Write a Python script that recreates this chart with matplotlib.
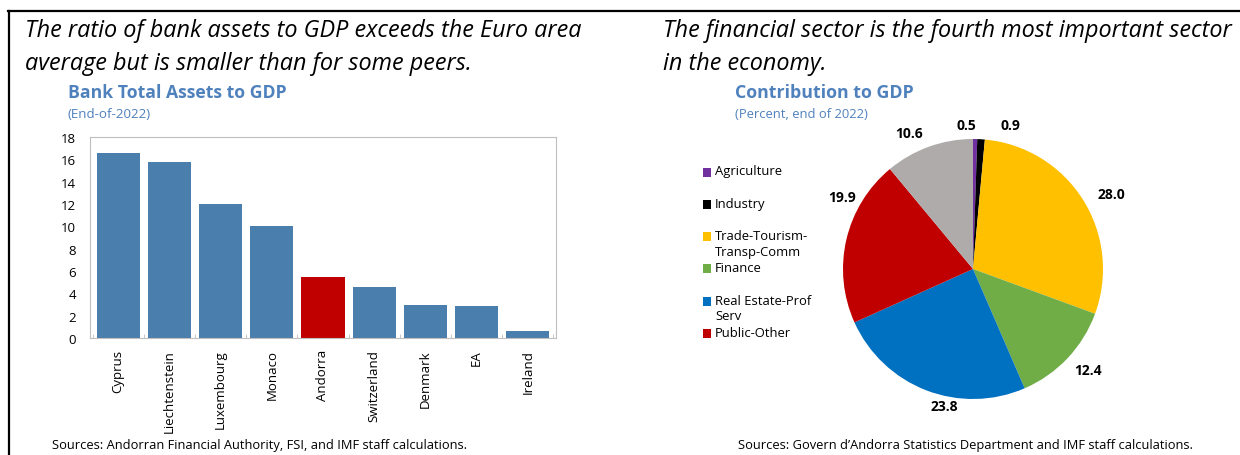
import matplotlib.pyplot as plt
from matplotlib.patches import Rectangle
from matplotlib.lines import Line2D
import numpy as np

plt.rcParams['font.family'] = ['Open Sans', 'DejaVu Sans']

# left panel: bank assets relative to GDP
countries = ['Cyprus', 'Liechtenstein', 'Luxembourg', 'Monaco', 'Andorra',
             'Switzerland', 'Denmark', 'EA', 'Ireland']
assets_to_gdp = [16.6, 15.8, 12.0, 10.0, 5.5, 4.6, 3.0, 2.9, 0.6]

# right panel: sector shares of GDP (last slice has no legend entry)
sectors = ['Agriculture', 'Industry', 'Trade-Tourism-\nTransp-Comm', 'Finance',
           'Real Estate-Prof\nServ', 'Public-Other', '']
shares = [0.5, 0.9, 28.0, 12.4, 23.8, 19.9, 10.6]

bar_blue = '#4A7EAC'
hl_red = '#C00000'
title_blue = '#4F81BD'
sector_colors = ['#7030A0', '#000000', '#FFC000', '#70AD47', '#0070C0',
                 '#C00000', '#AFABAB']

W, H = 1240, 456
fig = plt.figure(figsize=(W / 100, H / 100), dpi=100)


def fx(px):
    return px / W


def fy(py):
    return 1 - py / H


# frame lines
fig.add_artist(Line2D([fx(8), 1], [fy(12)] * 2, color='black', lw=1.6))
fig.add_artist(Line2D([fx(9)] * 2, [0, fy(12)], color='black', lw=1.6))

# headlines, one text per line
head_kw = dict(fontsize=16.85, style='italic', va='baseline', ha='left')
fig.text(fx(25), fy(37), 'The ratio of bank assets to GDP exceeds the Euro area', **head_kw)
fig.text(fx(25), fy(70), 'average but is smaller than for some peers.', **head_kw)
fig.text(fx(663), fy(37), 'The financial sector is the fourth most important sector', **head_kw)
fig.text(fx(663), fy(70), 'in the economy.', **head_kw)

# ---- bar chart ----
ax = fig.add_axes([fx(90), fy(339), fx(466), 201 / H])
x = np.arange(len(countries))
colors = [hl_red if c == 'Andorra' else bar_blue for c in countries]
ax.bar(x, assets_to_gdp, width=0.84, color=colors)
ax.set_xlim(-0.55, len(countries) - 0.45)
ax.set_ylim(0, 18)
ax.set_yticks(range(0, 19, 2))
ax.set_xticks(x)
ax.set_xticklabels(countries, rotation=90, fontsize=9.5)
ax.set_xticks(np.arange(len(countries) + 1) - 0.5, minor=True)
ax.tick_params(axis='y', length=0, labelsize=9.5, pad=10)
ax.tick_params(axis='x', which='major', length=0, pad=8)
ax.tick_params(axis='x', which='minor', direction='in', length=3, color='#BFBFBF')
for s in ax.spines.values():
    s.set_color('#BFBFBF')

fig.text(fx(68), fy(93), 'Bank Total Assets to GDP', fontsize=12.7,
         fontweight='bold', color=title_blue, va='center')
fig.text(fx(68), fy(114), '(End-of-2022)', fontsize=9.6,
         color=title_blue, va='center')
fig.text(fx(52), fy(446),
         'Sources: Andorran Financial Authority, FSI, and IMF staff calculations.',
         fontsize=9.3, va='center')

# ---- pie chart ----
pax = fig.add_axes([fx(843), fy(400), fx(260), 260 / H])
wedges, texts = pax.pie(shares, colors=sector_colors, startangle=90,
                        counterclock=False, labels=[f'{v:.1f}' for v in shares],
                        labeldistance=1.13,
                        textprops=dict(fontsize=10, fontweight='bold'))
# nudges so labels do not crowd each other
nudges = [(-0.07, -0.02), (0.22, -0.02), (0, -0.03), (-0.04, 0),
          (0.29, 0.0), (0.2, 0.3), (0, -0.02)]
for t, (dx, dy) in zip(texts, nudges):
    px, py = t.get_position()
    t.set_position((px + dx, py + dy))
texts[0].set_ha('center')
texts[1].set_ha('center')
pax.set_xlim(-1, 1)
pax.set_ylim(-1, 1)
pax.set_aspect('equal')

fig.text(fx(735), fy(93), 'Contribution to GDP', fontsize=12.8,
         fontweight='bold', color=title_blue, va='center')
fig.text(fx(735), fy(114), '(Percent, end of 2022)', fontsize=9.4,
         color=title_blue, va='center')

# legend drawn by hand so wrapped labels keep an even slot spacing
slot_y = 173
for name, col in zip(sectors, sector_colors):
    if not name:
        continue
    fig.add_artist(Rectangle((fx(703), fy(slot_y + 4.5)), fx(8), 9 / H,
                             facecolor=col, edgecolor='none'))
    fig.text(fx(715), fy(slot_y - 7.5), name, fontsize=9.4, va='top',
             linespacing=1.25)
    slot_y += 32.3

fig.text(fx(738), fy(446),
         'Sources: Govern d\u2019Andorra Statistics Department and IMF staff calculations.',
         fontsize=9.3, va='center')

fig.savefig('out.png', dpi=100)
